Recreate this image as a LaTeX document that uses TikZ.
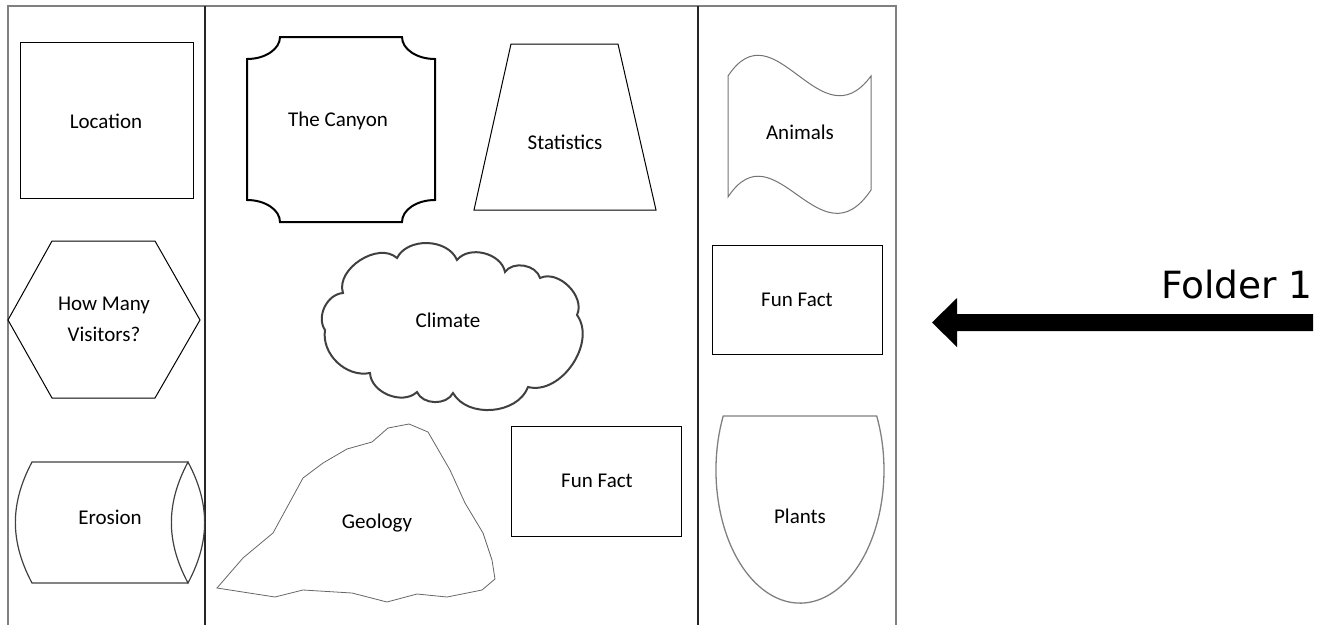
\documentclass[tikz,border=0pt]{standalone}
\usepackage{fontspec}
\setmainfont{Carlito}
\newfontfamily\foldfont{DejaVu Sans}
\begin{document}
\begin{tikzpicture}[x=1pt,y=-1pt,
  lbl/.style={font=\fontsize{21}{31}\selectfont, align=center, inner sep=0pt},
  frameouter/.style={draw=black!50, line width=2pt},
  divider/.style={draw=black!85, line width=1.3pt},
  thinbox/.style={draw=black, line width=1pt},
  grayline/.style={draw=black!55, line width=1pt},
  bump/.style={bend left=65}]
\useasboundingbox (0,0) rectangle (1326,625);
% frame
\draw[frameouter] (8,625) -- (8,6) -- (896,6) -- (896,625);
\draw[divider] (205,6) -- (205,625);
\draw[divider] (698,6) -- (698,625);
% Location
\draw[thinbox] (20,42) rectangle (193,198);
\node[lbl] (location) at (106,121) {Location};
% Hexagon
\draw[thinbox] (8,320) -- (52,241) -- (155,241) -- (200,320) -- (155,398) -- (52,398) -- cycle;
\node[lbl] (visitors) at (104,319) {How Many\\Visitors?};
% Erosion cylinder
\draw[draw=black!75, line width=1.2pt] (188,462) -- (32,462) to[bend right=28] (32,583) -- (188,583);
\draw[draw=black!75, line width=1.2pt] (188,462) to[bend right=28] (188,583) to[bend right=28] (188,462) -- cycle;
\node[lbl] (erosion) at (110,517) {Erosion};
% The Canyon plaque
\draw[draw=black, line width=2pt] (280,37) -- (402,37)
  arc[start angle=180, end angle=90, x radius=33, y radius=22] -- (435,200)
  arc[start angle=270, end angle=180, x radius=33, y radius=22] -- (280,222)
  arc[start angle=0, end angle=-90, x radius=33, y radius=22] -- (247,59)
  arc[start angle=90, end angle=0, x radius=33, y radius=22] -- cycle;
\node[lbl] (canyon) at (338,121) {The Canyon};
% Statistics trapezoid
\draw[thinbox] (511,44) -- (618,44) -- (656,210) -- (474,210) -- cycle;
\node[lbl] (statistics) at (565,142) {Statistics};
% Climate cloud
\draw[draw=black!75, line width=2pt, bump] (343,293) to[bend left=75] (397,258) to (457,260) to (505,272) to (540,278)
  to[bend left=70] (577,315) to[bend left=70] (528,387) to (453,393) to (417,392)
  to (370,373) to[bend left=55] (325,330) to[bend left=60] (343,293) -- cycle;
\node[lbl] (climate) at (448,320) {Climate};
% Geology
\draw[draw=black!60, line width=0.8pt] (217,588) -- (243,558) -- (273,533) -- (303,478) -- (323,463) -- (347,449)
  -- (372,442) -- (388,428) -- (409,424) -- (428,432) -- (450,470) -- (465,503) -- (483,533) -- (492,560)
  -- (495,579) -- (482,590) -- (447,597) -- (417,594) -- (387,602) -- (352,593) -- (303,590) -- (275,597) -- cycle;
\node[lbl] (geology) at (377,523) {Geology};
% Fun Fact middle
\draw[thinbox] (511,426) rectangle (681,536);
\node[lbl] (funfactmid) at (597,481) {Fun Fact};
% Animals wave
\draw[grayline] (728,76) .. controls (775,5) and (820,145) .. (871,76) -- (871,190)
  .. controls (820,266) and (775,126) .. (728,197) -- cycle;
\node[lbl] (animals) at (800,132) {Animals};
% Fun Fact right
\draw[thinbox] (712,245) rectangle (882,354);
\node[lbl] (funfactright) at (797,300) {Fun Fact};
% Plants
\draw[draw=black!50, line width=1.3pt] (876.7,416) arc[start angle=-24, end angle=204, x radius=84, y radius=133] -- cycle;
\node[lbl] (plants) at (800,516) {Plants};
% Arrow and Folder 1
\node[font=\foldfont\fontsize{37.5}{41}\selectfont, anchor=base east, inner sep=0pt] (folder) at (1313,298) {Folder 1};
\coordinate (arrowtail) at (1313,322.5);
\coordinate (arrowtip) at (932,322.5);
\fill[black] (arrowtail) ++(0,-8.5) -- (957,314) -- (957,298) -- (arrowtip) -- (957,347) -- (957,331) -- (1313,331) -- cycle;
\end{tikzpicture}
\end{document}
